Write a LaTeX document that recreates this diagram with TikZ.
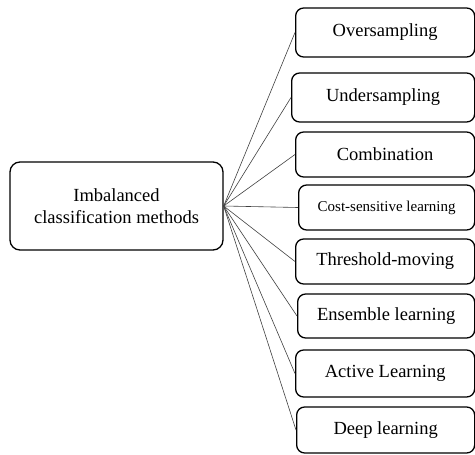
\documentclass[tikz,border=0pt]{standalone}
\usepackage{fontspec}
\setmainfont{Liberation Serif}
\begin{document}
\begin{tikzpicture}[x=1pt,y=-1pt,
  root/.style={draw,rounded corners=10pt,line width=1.3pt,align=center,
    inner sep=0pt,font=\fontsize{18.5}{21.5}\selectfont},
  method/.style={draw,rounded corners=8pt,line width=1.3pt,anchor=west,
    inner sep=0pt,font=\fontsize{18.5}{22}\selectfont},
  link/.style={black!75,line width=0.6pt}]
  \useasboundingbox (0,0) rectangle (475,455);
  % nodes
  \node (imb) at (116.5,206) [root,minimum width=213pt,minimum height=88pt]
    {Imbalanced\\classification methods};
  \node (over)   at (295,32.5)  [method,minimum width=179pt,minimum height=49pt] {Oversampling};
  \node (under)  at (291,97.5)  [method,minimum width=183pt,minimum height=49pt] {Undersampling};
  \node (comb)   at (295,154.5) [method,minimum width=179pt,minimum height=45pt] {Combination};
  \node (cost)   at (298,207.5) [method,minimum width=176pt,minimum height=45pt,
    font=\fontsize{15}{18}\selectfont] {Cost-sensitive learning};
  \node (thresh) at (295,261.5) [method,minimum width=179pt,minimum height=45pt] {Threshold-moving};
  \node (ens)    at (297,316)   [method,minimum width=177pt,minimum height=44pt] {Ensemble learning};
  \node (active) at (295,373.5) [method,minimum width=179pt,minimum height=47pt] {Active Learning};
  \node (deep)   at (296,430)   [method,minimum width=178pt,minimum height=46pt] {Deep learning};
  % links
  \draw[link] (imb.east) -- (over.west);
  \draw[link] (imb.east) -- (under.west);
  \draw[link] (imb.east) -- (comb.west);
  \draw[link] (imb.east) -- (cost.west);
  \draw[link] (imb.east) -- (thresh.west);
  \draw[link] (imb.east) -- (ens.west);
  \draw[link] (imb.east) -- (active.west);
  \draw[link] (imb.east) -- (deep.west);
\end{tikzpicture}
\end{document}
